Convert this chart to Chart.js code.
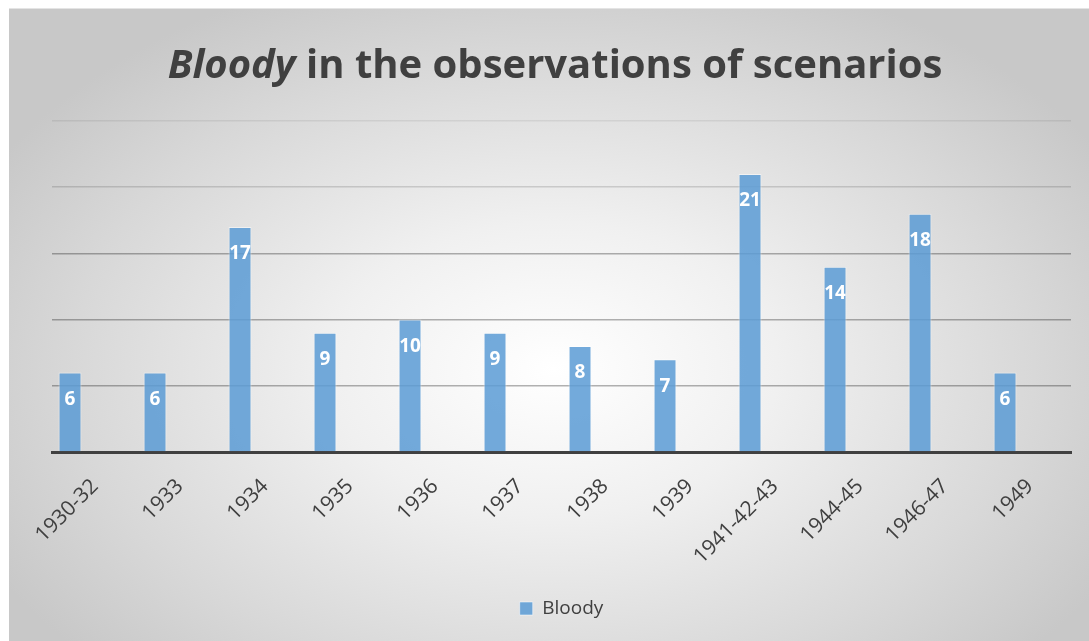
<!DOCTYPE html>
<html>
<head>
<meta charset="utf-8">
<script src="https://cdn.jsdelivr.net/npm/chart.js@4.4.0/dist/chart.umd.min.js"></script>
<style>
  html, body { margin: 0; padding: 0; background: #fff; }
  body { width: 1089px; height: 641px; position: relative; overflow: hidden; }
  #frame {
    position: absolute; left: 9px; top: 8px; width: 1080px; height: 633px;
    background: radial-gradient(ellipse 640px 420px at 545px 360px, #ffffff 0%, #f0f0f0 35%, #d8d8d8 75%, #c8c8c8 100%);
    border-top: 1px solid #e4e4e4;
  }
  #title {
    position: absolute; left: 0; top: 26px; width: 1092px; text-align: center;
    font-family: "Open Sans", sans-serif; font-weight: bold; font-size: 40px;
    color: #404040; white-space: nowrap;
  }
  #chart-box { position: absolute; left: 0; top: 0; width: 1080px; height: 633px; }
</style>
</head>
<body>
<div id="frame">
  <div id="chart-box"><canvas id="mainChart"></canvas></div>
  <div id="title"><i>Bloody</i> in the observations of scenarios</div>
</div>

<script>
// ข้อมูลของกราฟ
const periods = ['1930-32', '1933', '1934', '1935', '1936', '1937', '1938', '1939', '1941-42-43', '1944-45', '1946-47', '1949'];
const bloodyCounts = [6, 6, 17, 9, 10, 9, 8, 7, 21, 14, 18, 6];
const yTicks = [0, 5, 10, 15, 20, 25];

// ปลั๊กอินเขียนตัวเลขสีขาวในแท่ง
const barValueLabels = {
    id: 'barValueLabels',
    afterDatasetsDraw(chart) {
        const ctx = chart.ctx;
        const meta = chart.getDatasetMeta(0);
        ctx.save();
        ctx.fillStyle = '#ffffff';
        ctx.font = 'bold 19px "Open Sans"';
        ctx.textAlign = 'center';
        ctx.textBaseline = 'middle';
        meta.data.forEach((bar, i) => {
            ctx.fillText(String(bloodyCounts[i]), bar.x, bar.y + 27);
        });
        ctx.restore();
    }
};

const ctx = document.getElementById('mainChart').getContext('2d');
new Chart(ctx, {
    type: 'bar',
    data: {
        datasets: [{
            label: 'Bloody',
            data: bloodyCounts.map((v, i) => ({ x: i, y: v })),
            backgroundColor: 'rgba(91, 155, 213, 0.85)',
            borderColor: 'rgba(255, 255, 255, 0.5)',
            borderWidth: 1,
            barPercentage: 0.27,
            categoryPercentage: 1.0
        }]
    },
    options: {
        responsive: true,
        maintainAspectRatio: false,
        animation: false,
        layout: { padding: { left: 43, right: 18, top: 112, bottom: 14 } },
        plugins: {
            title: { display: false },
            tooltip: { enabled: false },
            legend: {
                position: 'bottom',
                labels: {
                    boxWidth: 13, boxHeight: 13,
                    color: '#404040',
                    font: { family: 'Open Sans', size: 19 },
                    padding: 10
                }
            }
        },
        scales: {
            // แกน x แบบ linear เพื่อให้แท่งแรกชิดซ้ายเหมือนต้นฉบับ
            x: {
                type: 'linear',
                min: -0.212, max: 11.776,
                offset: false,
                grid: { display: false },
                border: { display: true, color: '#404040', width: 3 },
                afterBuildTicks: (scale) => { scale.ticks = periods.map((p, i) => ({ value: i })); },
                ticks: {
                    autoSkip: false,
                    callback: (v) => periods[v],
                    color: '#404040',
                    font: { family: 'Open Sans', size: 21 },
                    minRotation: 45, maxRotation: 45,
                    labelOffset: 25,
                    padding: 14
                },
                afterFit: (scale) => {
                    scale.paddingLeft = 0;
                    scale.paddingRight = 0;
                    scale.height = 137;
                }
            },
            y: {
                min: 0, max: 25,
                afterBuildTicks: (scale) => { scale.ticks = yTicks.map(v => ({ value: v })); },
                ticks: { display: false },
                border: { display: false },
                grid: {
                    drawTicks: false,
                    lineWidth: 1.5,
                    color: (c) => c.tick && c.tick.value === 25 ? 'rgba(0,0,0,0.07)'
                                : (c.tick && c.tick.value === 20 ? 'rgba(0,0,0,0.14)' : 'rgba(0,0,0,0.3)')
                }
            }
        }
    },
    plugins: [barValueLabels]
});
</script>
</body>
</html>
